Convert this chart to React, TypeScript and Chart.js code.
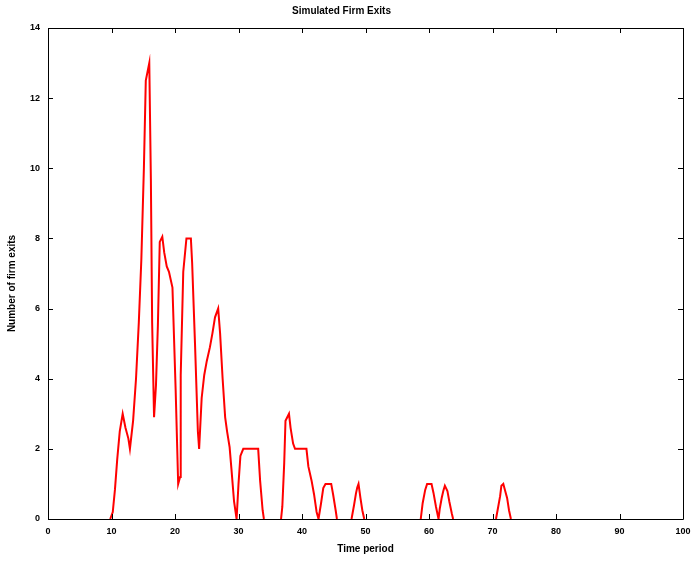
import React, { useEffect, useRef } from 'react';
import { Chart, registerables } from 'chart.js';

Chart.register(...registerables);

const chartTitle = 'Simulated Firm Exits';
const xAxisTitle = 'Time period';
const yAxisTitle = 'Number of firm exits';

const xTickValues = [0, 10, 20, 30, 40, 50, 60, 70, 80, 90, 100];
const yTickValues = [0, 2, 4, 6, 8, 10, 12, 14];

// time period of each sample (null = break in the line)
const periods: (number | null)[] = [
  9.8, 10.2, 10.55, 10.9, 11.3, 11.76, 12.2, 12.65, 12.9, 13.4, 13.86, 14.3, 14.7, 15.1, 15.4, 15.95,
  16.2, 16.4, 16.7, 17.0, 17.3, 17.6, 18.0, 18.3, 18.7, 19.05, 19.6, 20.1, 20.5, 20.8, 20.9, 21.3,
  21.8, 22.5, 22.7, 23.15, 23.6, 23.8, 24.2, 24.6, 25.0, 25.5, 25.9, 26.3, 26.8, 27.1, 27.5, 27.9,
  28.2, 28.6, 28.9, 29.3, 29.7, 30.0, 30.3, 30.75, 33.1, 33.4, 33.8, 34.0,
  null,
  36.7, 36.9, 37.2, 37.4, 37.95, 38.2, 38.6, 38.9, 40.7, 41.0, 41.5, 41.9, 42.3, 42.6, 43.0, 43.35,
  43.7, 44.6, 44.9, 45.3, 45.5,
  null,
  47.8, 48.2, 48.5, 48.7, 48.9, 49.2, 49.5, 49.8,
  null,
  58.7, 59.0, 59.4, 59.7, 60.4, 60.7, 61.1, 61.5, 61.7, 62.0, 62.25, 62.5, 62.9, 63.2, 63.6, 63.8,
  null,
  70.55, 70.9, 71.2, 71.4, 71.7, 72.0, 72.3, 72.6, 72.9,
];

// number of firm exits at each sample
const exits: (number | null)[] = [
  0, 0.2, 0.85, 1.7, 2.5, 3.0, 2.6, 2.3, 2.0, 2.8, 4.0, 5.6, 7.4, 10.0, 12.5, 13.0,
  9.7, 5.6, 2.9, 3.8, 5.5, 7.9, 8.05, 7.6, 7.2, 7.05, 6.6, 3.7, 1.0, 1.2, 4.1, 7.05,
  8.0, 8.0, 7.3, 5.0, 2.5, 2.0, 3.45, 4.1, 4.5, 4.9, 5.3, 5.75, 6.0, 5.3, 4.0, 2.9,
  2.5, 2.05, 1.4, 0.5, 0, 1.0, 1.8, 2.0, 2.0, 1.1, 0.25, 0,
  null,
  0, 0.35, 1.6, 2.8, 3.0, 2.6, 2.15, 2.0, 2.0, 1.5, 1.1, 0.7, 0.2, 0, 0.45, 0.88,
  1.0, 1.0, 0.7, 0.25, 0,
  null,
  0, 0.4, 0.73, 0.9, 1.0, 0.6, 0.25, 0,
  null,
  0, 0.45, 0.83, 1.0, 1.0, 0.75, 0.35, 0, 0.3, 0.6, 0.8, 0.95, 0.8, 0.5, 0.15, 0,
  null,
  0, 0.35, 0.65, 0.95, 1.0, 0.8, 0.6, 0.25, 0,
];

const FONT = "'Liberation Sans', Arial, sans-serif";

const matlabAxesPlugin = {
  id: 'matlabAxes',
  afterDatasetsDraw(chart: any) {
    const { ctx, chartArea, scales } = chart;
    const { left, right, top, bottom } = chartArea;
    const x = scales.x;
    const y = scales.y;
    const tickLen = 5;
    ctx.save();
    ctx.strokeStyle = '#000';
    ctx.lineWidth = 1;
    ctx.beginPath();
    ctx.rect(Math.round(left) + 0.5, Math.round(top) + 0.5, Math.round(right - left), Math.round(bottom - top));
    ctx.stroke();
    ctx.beginPath();
    xTickValues.forEach((v) => {
      const px = Math.round(x.getPixelForValue(v)) + 0.5;
      ctx.moveTo(px, bottom);
      ctx.lineTo(px, bottom - tickLen);
      ctx.moveTo(px, top);
      ctx.lineTo(px, top + tickLen);
    });
    yTickValues.forEach((v) => {
      const py = Math.round(y.getPixelForValue(v)) + 0.5;
      ctx.moveTo(left, py);
      ctx.lineTo(left + tickLen, py);
      ctx.moveTo(right, py);
      ctx.lineTo(right - tickLen, py);
    });
    ctx.stroke();

    ctx.fillStyle = '#000';
    ctx.font = `bold 10px ${FONT}`;
    ctx.textAlign = 'center';
    ctx.textBaseline = 'middle';
    ctx.fillText(xAxisTitle, (left + right) / 2, 549);
    ctx.translate(12, (top + bottom) / 2 + 10);
    ctx.rotate(-Math.PI / 2);
    ctx.fillText(yAxisTitle, 0, 0);
    ctx.restore();
  },
};

export default function App() {
  const canvasRef = useRef<HTMLCanvasElement | null>(null);

  useEffect(() => {
    if (!canvasRef.current) return;
    const points = periods.map((p, i) =>
      p === null ? { x: NaN, y: null } : { x: p, y: exits[i] }
    );
    const chart = new Chart(canvasRef.current, {
      type: 'line',
      data: {
        datasets: [
          {
            data: points as any,
            borderColor: '#ff0000',
            borderWidth: 2,
            pointRadius: 0,
            tension: 0,
            spanGaps: false,
            fill: false,
          },
        ],
      },
      options: {
        animation: false,
        responsive: false,
        maintainAspectRatio: false,
        parsing: true,
        layout: { padding: { left: 0, right: 9, top: 0, bottom: 0 } },
        plugins: {
          legend: { display: false },
          tooltip: { enabled: false },
          title: {
            display: true,
            text: chartTitle,
            color: '#000',
            font: { family: FONT, size: 10, weight: 'bold', lineHeight: 1.2 },
            padding: { top: 5, bottom: 11 },
          },
        },
        scales: {
          x: {
            type: 'linear',
            min: 0,
            max: 100,
            afterFit: (s: any) => {
              s.height = 45;
              s.paddingLeft = 0;
              s.paddingRight = 0;
            },
            afterBuildTicks: (s: any) => {
              s.ticks = xTickValues.map((v) => ({ value: v }));
            },
            grid: { display: false, drawTicks: false },
            border: { display: false },
            ticks: {
              color: '#000',
              padding: 7,
              maxRotation: 0,
              font: { family: FONT, size: 9, weight: 'bold' },
            },
          },
          y: {
            type: 'linear',
            min: 0,
            max: 14,
            afterFit: (s: any) => {
              s.width = 48;
              s.paddingTop = 0;
              s.paddingBottom = 0;
            },
            afterBuildTicks: (s: any) => {
              s.ticks = yTickValues.map((v) => ({ value: v }));
            },
            grid: { display: false, drawTicks: false },
            border: { display: false },
            ticks: {
              color: '#000',
              padding: 8,
              font: { family: FONT, size: 9, weight: 'bold' },
            },
          },
        },
      },
      plugins: [matlabAxesPlugin],
    });
    return () => chart.destroy();
  }, []);

  return (
    <div style={{ position: 'fixed', left: 0, top: 0, width: 692, height: 564, background: '#fff' }}>
      <canvas ref={canvasRef} width={692} height={564} style={{ display: 'block', width: 692, height: 564 }} />
    </div>
  );
}
